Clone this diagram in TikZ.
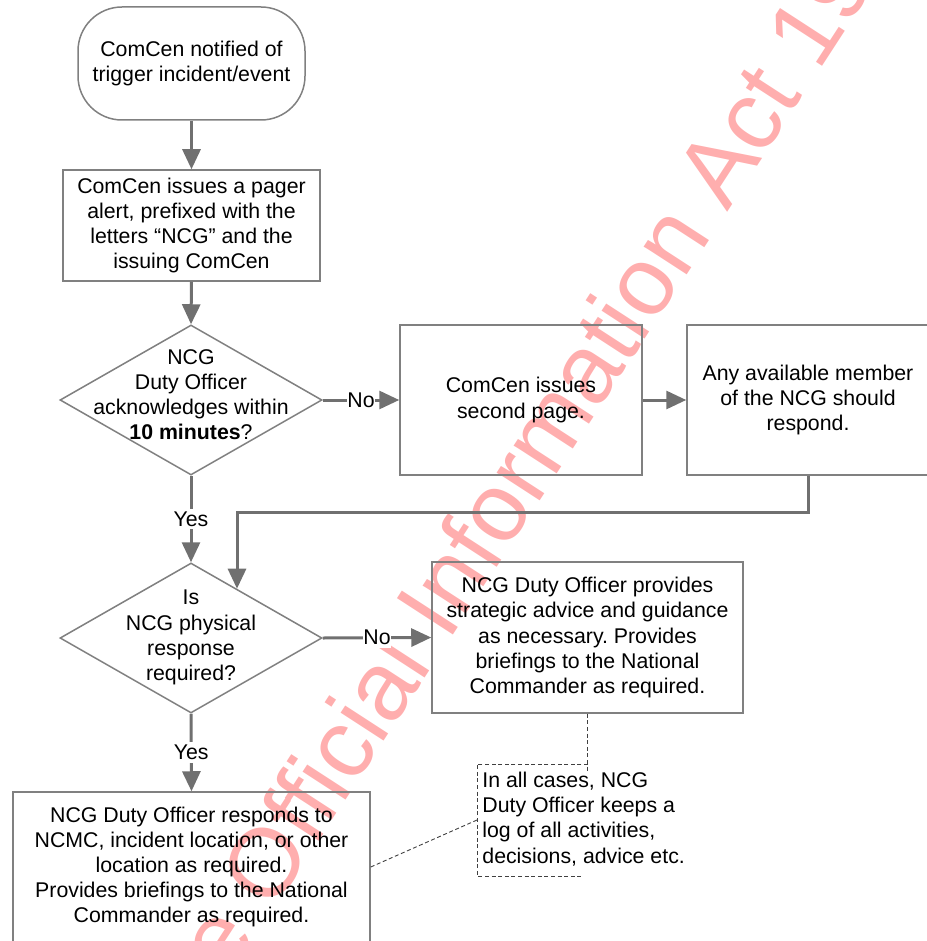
\documentclass[tikz,border=0pt]{standalone}
\usepackage{fontspec}
\setmainfont{Liberation Sans}
\usepackage{xcolor}
\usetikzlibrary{shapes.geometric}
\usetikzlibrary{arrows.meta}
\frenchspacing
\definecolor{linegray}{RGB}{112,112,112}
\definecolor{boxgray}{RGB}{128,128,128}
\definecolor{stampred}{RGB}{255,174,174}
\newcommand{\boxfont}{\fontsize{10.65pt}{12.55pt}\selectfont}
\tikzset{box/.style={draw=boxgray, line width=0.75pt, align=center, font=\boxfont, inner sep=0pt},
 terminal/.style={box, rounded corners=22pt, minimum width=113.5pt, minimum height=56.5pt},
 decision/.style={diamond, draw=boxgray, line width=0.75pt, minimum width=131pt, minimum height=75pt, inner sep=0pt},
 txt/.style={align=center, font=\boxfont, inner sep=0pt},
 flow/.style={draw=linegray, line width=1.5pt, -{Triangle[length=10pt,width=9pt]}},
 lbl/.style={fill=white, font=\boxfont, inner xsep=0.3pt, inner ysep=1.5pt},
 notebox/.style={draw=black!75, line width=0.45pt, dash pattern=on 2pt off 1.3pt},
 stamp/.style={text=stampred, font=\fontsize{48.5pt}{58pt}\selectfont, inner sep=0pt},
 }

\begin{document}
\begin{tikzpicture}[x=0.5pt, y=-0.5pt]
        \useasboundingbox (0,0) rectangle (926,941);
        % watermark, behind everything
        \node[stamp, rotate=57, anchor=base west] (wm) at (727,213) {\llap{Released under the Official Information }Act 1982};

        \node[terminal] (start) at (191.5,63.5) {ComCen notified of\\trigger incident/event};
        \node[box, minimum width=128.5pt, minimum height=55.5pt] (alert) at (191.5,225.5) {ComCen issues a pager\\alert, prefixed with the\\letters “NCG” and the\\issuing ComCen};

        \node[decision] (ack) at (191,400) {};
        \node[txt] (acktext) at (191,395) {NCG\\Duty Officer\\acknowledges within\\\textbf{10 minutes}?};
        \node[box, minimum width=121pt, minimum height=75pt] (second) at (521,400) {ComCen issues\\second page.};
        \node[box, minimum width=121pt, minimum height=75pt] (anyone) at (808,400) {Any available member\\of the NCG should\\respond.};

        \node[decision] (phys) at (191,638) {};
        \node[txt] (phystext) at (191,637.5) {Is\\NCG physical\\response\\required?};
        \node[box, minimum width=155.5pt, minimum height=75.5pt] (advice) at (587.5,637.5) {NCG Duty Officer provides\\strategic advice and guidance\\as necessary. Provides\\briefings to the National\\Commander as required.};

        \node[box, minimum width=178.5pt, minimum height=75pt] (respond) at (191.5,867) {NCG Duty Officer responds to\\NCMC, incident location, or other\\location as required.\\Provides briefings to the National\\Commander as required.};
        \node[txt, align=left, anchor=west] (log) at (482,819) {In all cases, NCG\\Duty Officer keeps a\\log of all activities,\\decisions, advice etc.};

        \coordinate (turn) at (237,512);
        \coordinate (bracket) at (477,820);

        \draw[flow] (start.south) -- (alert.north);
        \draw[flow] (alert.south) -- (ack.north);
        \draw[flow] (ack.east) -- node[lbl] {No} (second.west);
        \draw[flow] (second.east) -- (anyone.west);
        \draw[flow] (anyone.south) |- (turn) -- (turn |- phys.47);
        \draw[flow] (ack.south) -- node[lbl] {Yes} (phys.north);
        \draw[flow] (phys.east) -- node[lbl] {No} (advice.west);
        \draw[flow] (phys.south) -- node[lbl] {Yes} (respond.north);

        % annotation
        \draw[notebox] (advice.south) -- ++(0,59);
        \draw[notebox] (588,764) -| (477,876) -- (582,876);
        \draw[notebox] (respond.east) -- (bracket);
    \end{tikzpicture}
\end{document}
